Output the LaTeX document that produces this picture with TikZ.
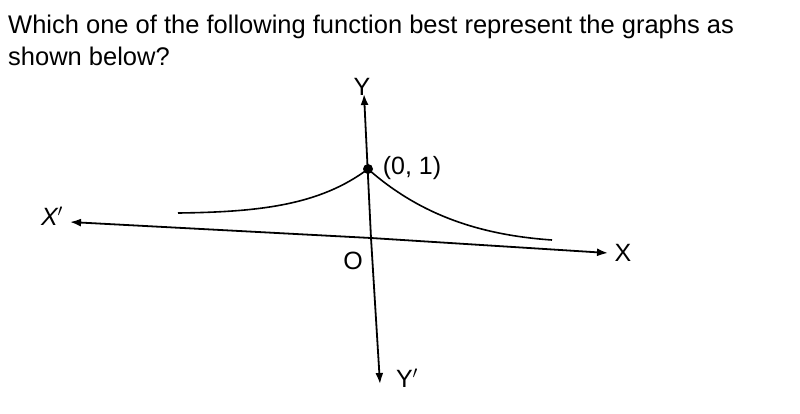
\documentclass[tikz,border=0pt]{standalone}
\usepackage{fontspec}
\setmainfont{Liberation Sans}
\usetikzlibrary{arrows.meta}
\begin{document}
\begin{tikzpicture}[x=1pt,y=-1pt,
  ax/.style={line width=1.8pt,-{Latex[length=11pt,width=8pt]}},
  crv/.style={line width=1.6pt},
  lbl/.style={font=\fontsize{25.5}{30}\selectfont,inner sep=0pt},
  glbl/.style={font=\fontsize{25}{30}\selectfont,inner sep=0pt}]
\useasboundingbox (0,0) rectangle (800,413);
\node[lbl,anchor=base west] (q1) at (8,33) {Which one of the following function best represent the graphs as};
\node[lbl,anchor=base west] (q2) at (8,65) {shown below?};
\coordinate (xl) at (70,222);
\coordinate (xr) at (608,253);
\coordinate (yt) at (364,94);
\coordinate (yb) at (380,384);
\coordinate (o) at (371,238);
\draw[ax] (o) -- (xl);
\draw[ax] (o) -- (xr);
\draw[ax] (o) -- (yt);
\draw[ax] (o) -- (yb);
\node[circle,fill=black,inner sep=0pt,minimum size=10pt] (p) at (368,169) {};
\draw[crv] (178,213) .. controls (260,212) and (320,205) .. (p.center);
\draw[crv] (p.center) .. controls (420,215) and (480,235) .. (552,240);
\node[glbl] (lx1) at (52,216) {\itshape X$'$};
\node[glbl] (lx) at (623,253) {X};
\node[glbl] (ly) at (362,87) {Y};
\node[glbl] (ly1) at (407,378) {Y$'$};
\node[glbl] (lo) at (353,261) {O};
\node[glbl] (lp) at (412,168) {(0, 1)};
\end{tikzpicture}
\end{document}
